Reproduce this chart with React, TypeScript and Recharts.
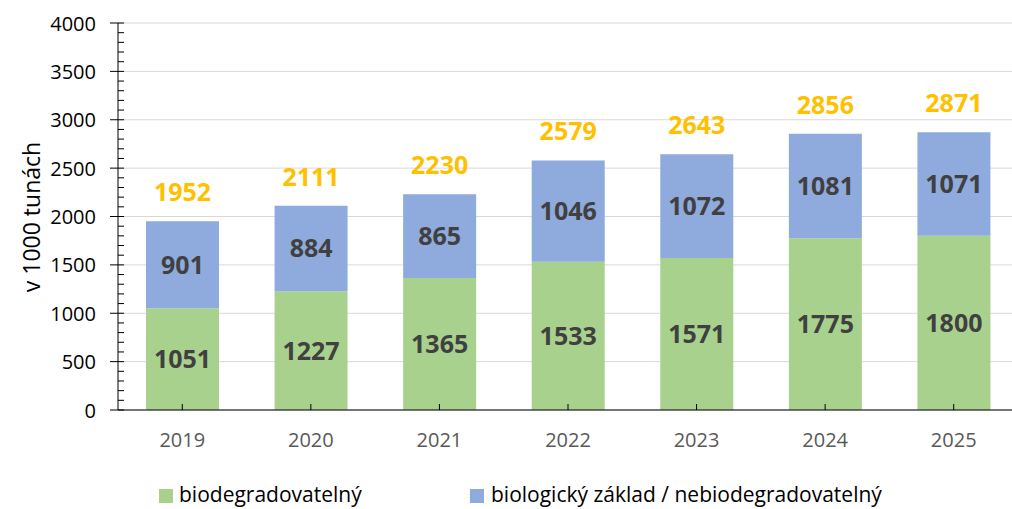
import React from "react";
import { BarChart, Bar, XAxis, YAxis, CartesianGrid, LabelList } from "recharts";

const years = ["2019", "2020", "2021", "2022", "2023", "2024", "2025"];
const biodegradable = [1051, 1227, 1365, 1533, 1571, 1775, 1800];
const biobased = [901, 884, 865, 1046, 1072, 1081, 1071];
const totals = [1952, 2111, 2230, 2579, 2643, 2856, 2871];
const majorTicks = [0, 500, 1000, 1500, 2000, 2500, 3000, 3500, 4000];
const allTicks = Array.from({ length: 41 }, (_, i) => i * 100);

const FONT = "'Open Sans', sans-serif";
const GREEN = "#A9D18E";
const BLUE = "#8FAADC";

const data = years.map((year, i) => ({
  year,
  bio: biodegradable[i],
  base: biobased[i],
  total: totals[i],
}));

const YTick = (props: any) => {
  const { x, y, payload } = props;
  const axisX = x + 22;
  const major = payload.value % 500 === 0;
  return (
    <g>
      <line
        x1={major ? axisX - 8 : axisX}
        x2={axisX + 6}
        y1={y}
        y2={y}
        stroke="#000"
        strokeWidth={1}
      />
      {major && (
        <text
          x={x}
          y={y}
          textAnchor="end"
          dominantBaseline="central"
          fontFamily={FONT}
          fontSize={20}
          fill="#000"
        >
          {payload.value}
        </text>
      )}
    </g>
  );
};

const XTick = (props: any) => {
  const { x, y, payload } = props;
  return (
    <g>
      <line x1={x} x2={x} y1={y} y2={y - 6} stroke="#000" />
      <text
        x={x}
        y={y + 37}
        textAnchor="middle"
        fontFamily={FONT}
        fontSize={20}
        fill="#595959"
      >
        {payload.value}
      </text>
    </g>
  );
};

export default function App() {
  return (
    <div
      style={{
        position: "absolute",
        left: 0,
        top: 0,
        width: 1012,
        height: 509,
        overflow: "hidden",
        background: "#fff",
      }}
    >
      <BarChart
        width={1020}
        height={509}
        data={data}
        margin={{ top: 23, right: 2, left: 0, bottom: 0 }}
        barSize={73}
      >
        <CartesianGrid
          vertical={false}
          stroke="#D9D9D9"
          horizontalValues={majorTicks}
        />
        <XAxis
          dataKey="year"
          height={99}
          tickLine={false}
          tickSize={0}
          tickMargin={0}
          axisLine={{ stroke: "#000" }}
          tick={<XTick />}
          interval={0}
        />
        <YAxis
          type="number"
          domain={[0, 4000]}
          ticks={allTicks}
          interval={0}
          width={118}
          tickSize={8}
          tickMargin={14}
          tickLine={false}
          axisLine={{ stroke: "#000" }}
          tick={<YTick />}
          label={{
            content: () => (
              <text
                x={31}
                y={217}
                transform="rotate(-90 31 217)"
                textAnchor="middle"
                dominantBaseline="central"
                fontFamily={FONT}
                fontSize={23}
                fill="#000"
              >
                v 1000 tunách
              </text>
            ),
          }}
        />
        <Bar dataKey="bio" stackId="a" fill={GREEN} isAnimationActive={false}>
          <LabelList
            dataKey="bio"
            position="center"
            fill="#404040"
            fontFamily={FONT}
            fontSize={25}
            fontWeight="bold"
          />
        </Bar>
        <Bar dataKey="base" stackId="a" fill={BLUE} isAnimationActive={false}>
          <LabelList
            dataKey="base"
            position="center"
            fill="#404040"
            fontFamily={FONT}
            fontSize={25}
            fontWeight="bold"
          />
          <LabelList
            dataKey="total"
            position="top"
            offset={20}
            fill="#FFC000"
            fontFamily={FONT}
            fontSize={25}
            fontWeight="bold"
          />
        </Bar>
      </BarChart>
      <div
        style={{
          position: "absolute",
          top: 480,
          left: 0,
          width: 1012,
          fontFamily: FONT,
          fontSize: 21,
          lineHeight: "28px",
          color: "#000",
          whiteSpace: "nowrap",
        }}
      >
        <span
          style={{
            position: "absolute",
            left: 159,
            top: 9,
            width: 14,
            height: 14,
            background: GREEN,
          }}
        />
        <span style={{ position: "absolute", left: 179, top: 0 }}>
          biodegradovatelný
        </span>
        <span
          style={{
            position: "absolute",
            left: 470,
            top: 9,
            width: 14,
            height: 14,
            background: BLUE,
          }}
        />
        <span style={{ position: "absolute", left: 491, top: 0 }}>
          biologický základ / nebiodegradovatelný
        </span>
      </div>
    </div>
  );
}
